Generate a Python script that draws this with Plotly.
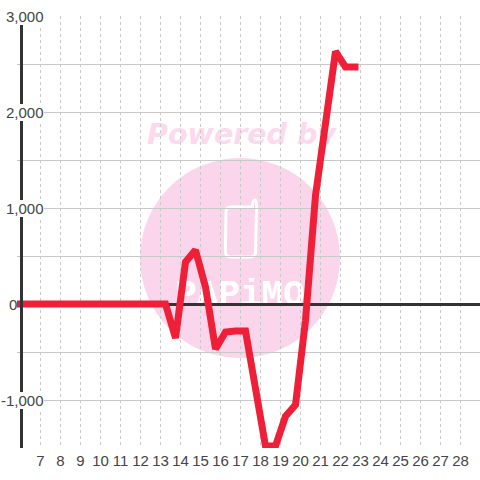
import plotly.graph_objects as go

days = [5.75, 6.25, 6.75, 7.25, 7.75, 8.25, 8.75, 9.25, 9.75, 10.25, 10.75, 11.25,
        11.75, 12.25, 12.75, 13.25, 13.75, 14.25, 14.75, 15.25, 15.75, 16.25, 16.75,
        17.25, 17.75, 18.25, 18.75, 19.25, 19.75, 20.25, 20.75, 21.25, 21.75, 22.25, 22.9]
values = [0, 0, 0, 0, 0, 0, 0, 0, 0, 0, 0, 0,
          0, 0, 0, 0, -354, 437, 562, 177, -469, -292, -281,
          -281, -880, -1480, -1480, -1170, -1050, -170, 1130, 1920, 2630, 2470, 2470]
x_ticks = list(range(7, 29))
y_label_values = [3000, 2000, 1000, 0, -1000]
y_label_texts = ["3,000", "2,000", "1,000", "0", "-1,000"]

W, H = 480, 480
L, T, B = 17, 16, 32
PW, PH = W - L, H - T - B
def X(px): return (px - L) / PW
def Y(py): return 1 - (py - T) / PH

GRID = "#c9c9c9"
TEXT = "#444444"
PINK = "#fbd5ec"
FONT = "Liberation Sans"

px_per_day = 20
xmin = 6 - (20.5 - L) / px_per_day
xmax = 6 + (480 - 20.5) / px_per_day

shapes = [
    dict(type="circle", xref="paper", yref="paper", layer="below",
         x0=X(140), x1=X(340), y0=Y(358), y1=Y(158), fillcolor=PINK, line_width=0),
    dict(type="path", xref="paper", yref="paper", layer="below",
         path=(f"M{X(252.5)},{Y(207)} Q{X(252.5)},{Y(200)} {X(255)},{Y(200)} "
               f"Q{X(256.5)},{Y(200)} {X(256.5)},{Y(207)} L{X(255.5)},{Y(252)} "
               f"Q{X(255.5)},{Y(257)} {X(250)},{Y(257)} L{X(231)},{Y(257)} "
               f"Q{X(225.5)},{Y(257)} {X(225.5)},{Y(252)} L{X(226)},{Y(212)} "
               f"Q{X(226)},{Y(207)} {X(231)},{Y(207)} Z"),
         fillcolor="rgba(0,0,0,0)", line=dict(color="white", width=3)),
    dict(type="rect", xref="paper", yref="paper", layer="below",
         x0=X(140), x1=X(343), y0=Y(150), y1=Y(114), line_width=0,
         fillcolor="rgba(0,0,0,0)",
         label=dict(text="<b><i>Powered by</i></b>", textposition="middle center",
                    font=dict(family="DejaVu Sans", size=28.5, color="#fdd9ee"))),
    dict(type="rect", xref="paper", yref="paper", layer="below",
         x0=X(170), x1=X(310), y0=Y(308), y1=Y(270), line_width=0,
         fillcolor="rgba(0,0,0,0)",
         label=dict(text="<b>PAPiMO</b>", textposition="middle center",
                    font=dict(family="Liberation Mono", size=36, color="white"))),
    dict(type="rect", xref="paper", yref="paper", layer="between",
         x0=0, x1=X(19), y0=0, y1=1, fillcolor="white", line_width=0),
]

annotations = []
for v, t in zip(y_label_values, y_label_texts):
    right = 17 if v == 0 else 44
    annotations.append(dict(
        x=X(right), xref="paper", y=v, yref="y", text=t, showarrow=False,
        xanchor="right", yanchor="middle", bgcolor="white", borderpad=0, borderwidth=0,
        font=dict(family=FONT, size=15, color=TEXT)))

fig = go.Figure(go.Scatter(
    x=days, y=values, mode="lines",
    line=dict(color="#ef1f38", width=7), hoverinfo="skip", showlegend=False))

fig.update_layout(
    width=W, height=H, autosize=False,
    margin=dict(l=L, r=0, t=T, b=B, pad=0),
    paper_bgcolor="white", plot_bgcolor="rgba(0,0,0,0)",
    shapes=shapes, annotations=annotations,
    xaxis=dict(range=[xmin, xmax], tickmode="array", tickvals=x_ticks,
               ticktext=[str(v) for v in x_ticks], showgrid=True, gridcolor=GRID,
               griddash="3px,3px", gridwidth=1, zeroline=False, showline=False,
               ticks="", ticklabelstandoff=2,
               tickfont=dict(family=FONT, size=15, color=TEXT)),
    yaxis=dict(range=[-1500, 3000], dtick=500, tick0=0, showgrid=True, gridcolor=GRID,
               gridwidth=1, zeroline=True, zerolinecolor="#333333", zerolinewidth=3,
               showticklabels=False, ticks="", showline=True, linecolor="#333333",
               linewidth=3, anchor="free", position=X(20.5)),
)
fig.write_html("out.html", config=dict(displayModeBar=False),
               post_script="document.body.style.margin='0';document.body.style.overflow='hidden';")
